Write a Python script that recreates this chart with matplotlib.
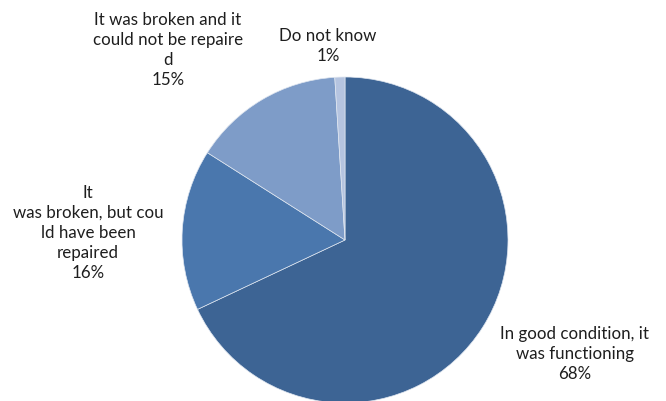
import matplotlib.pyplot as plt

# slices, clockwise from 12 o'clock
shares = [68, 16, 15, 1]
labels = [
    "In good condition, it\nwas functioning\n68%",
    "It\nwas broken, but cou\nld have been\nrepaired\n16%",
    "It was broken and it\ncould not be repaire\nd\n15%",
    "Do not know\n1%",
]
colors = ["#3d6494", "#4a77ad", "#7e9cc8", "#b5c4e0"]

# label centres in pixel coords (y measured from the bottom)
label_pos = [(575, 401 - 354), (88, 401 - 233), (168, 401 - 50), (328, 401 - 46)]

fig = plt.figure(figsize=(6.66, 4.01), dpi=100)
ax = fig.add_axes([0, 0, 1, 1])

ax.pie(shares, colors=colors, startangle=90, counterclock=False,
       center=(345, 161), radius=163, frame=True,
       wedgeprops=dict(edgecolor="#dfe6f0", linewidth=0.5))
ax.set_xlim(0, 666)
ax.set_ylim(0, 401)
ax.set_aspect("equal")
ax.axis("off")

for lab, (x, y) in zip(labels, label_pos):
    ax.text(x, y, lab, ha="center", va="center", fontsize=12.2, family="Lato",
            color="#1e1e1e", linespacing=1.32, multialignment="center")

fig.savefig("out.png", dpi=100)
